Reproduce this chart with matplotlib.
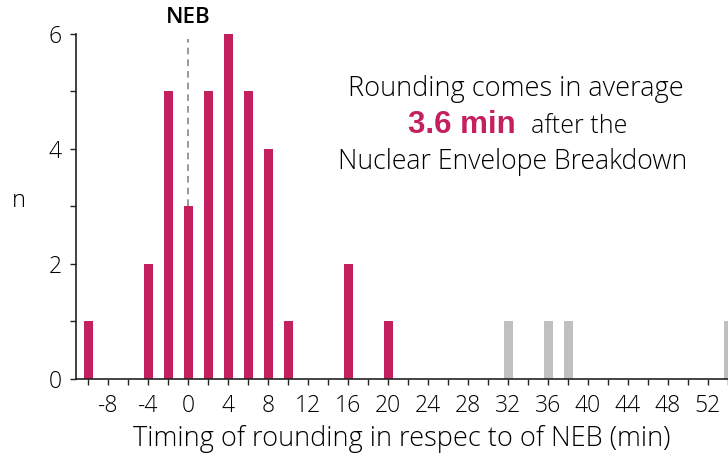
import matplotlib
matplotlib.use("Agg")
import matplotlib.pyplot as plt
from matplotlib.ticker import MultipleLocator

# data
pink_times = [-10, -4, -2, 0, 2, 4, 6, 8, 10, 16, 20]
pink_counts = [1, 2, 5, 3, 5, 6, 5, 4, 1, 2, 1]
grey_times = [32, 36, 38, 54]
grey_counts = [1, 1, 1, 1]

PINK = "#c41f5f"
GREY = "#c0c0c0"

plt.rcParams['font.family'] = ['Open Sans', 'DejaVu Sans']
plt.rcParams['axes.unicode_minus'] = False

fig = plt.figure(figsize=(7.28, 4.61), dpi=100)
ax = fig.add_axes([76 / 728, 82 / 461, 652 / 728, 345.3 / 461])

ax.bar(pink_times, pink_counts, width=0.9, color=PINK)
ax.bar(grey_times, grey_counts, width=0.9, color=GREY)

ax.set_xlim(-11.2, 54)
ax.set_ylim(0, 6)
ax.spines['top'].set_visible(False)
ax.spines['right'].set_visible(False)
for s in ('left', 'bottom'):
    ax.spines[s].set_linewidth(1.2)
    ax.spines[s].set_color('#222222')

ax.xaxis.set_major_locator(MultipleLocator(4))
ax.xaxis.set_minor_locator(MultipleLocator(2))
ax.yaxis.set_major_locator(MultipleLocator(2))
ax.yaxis.set_minor_locator(MultipleLocator(1))
ax.tick_params(which='both', length=4, width=1.0, color='#222222')
ax.tick_params(axis='x', which='major', labelsize=16.5, pad=7)
ax.tick_params(axis='y', which='major', labelsize=16.5, pad=6)
for lbl in ax.get_xticklabels() + ax.get_yticklabels():
    lbl.set_fontweight('light')

ax.set_xlabel("Timing of rounding in respec to of NEB (min)", fontsize=19.5,
              fontweight='light', labelpad=5)
ax.set_ylabel("n", fontsize=17, fontweight='light', rotation=0, va='center')
ax.yaxis.set_label_coords(-0.088, 0.515)

# NEB marker
ax.plot([0, 0], [3, 5.9], ls='--', color='#888888', lw=1.2, dashes=(4, 3))
ax.text(0, 6.1, "NEB", ha='center', va='bottom', fontsize=16, fontweight='semibold')

# annotation
ax.text(0.675, 0.840, "Rounding comes in average", transform=ax.transAxes,
        ha='center', va='center', fontsize=19.5, fontweight='light')
ax.text(0.592, 0.735, "3.6 min", transform=ax.transAxes, ha='center', va='center',
        fontsize=22.5, fontweight='bold', color=PINK,
        family=['Liberation Sans', 'DejaVu Sans'])
ax.text(0.771, 0.730, "after the", transform=ax.transAxes, ha='center', va='center',
        fontsize=18, fontweight='light')
ax.text(0.669, 0.628, "Nuclear Envelope Breakdown", transform=ax.transAxes,
        ha='center', va='center', fontsize=19.2, fontweight='light')

fig.savefig("out.png", dpi=100)
